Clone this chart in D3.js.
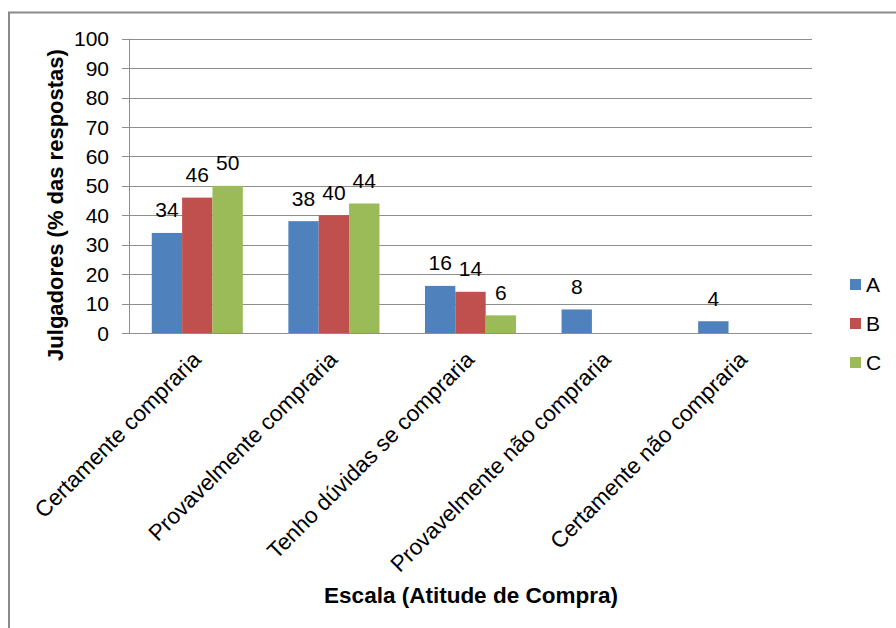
<!DOCTYPE html>
<html>
<head>
<meta charset="utf-8">
<script src="https://cdn.jsdelivr.net/npm/d3@7"></script>
<style>
  html, body { margin: 0; padding: 0; background: #fff; }
  svg { display: block; font-family: "Liberation Sans", Arial, sans-serif; }
</style>
</head>
<body>
<svg id="chart" width="896" height="628"></svg>
<script>
// Categories on the purchase-attitude scale
const categories = [
  "Certamente compraria",
  "Provavelmente compraria",
  "Tenho dúvidas se compraria",
  "Provavelmente não compraria",
  "Certamente não compraria"
];
// Share of judges (%) per sample; null = no answers in that category
const seriesNames = ["A", "B", "C"];
const valuesA = [34, 38, 16, 8, 4];
const valuesB = [46, 40, 14, null, null];
const valuesC = [50, 44, 6, null, null];
const yTicks = [0, 10, 20, 30, 40, 50, 60, 70, 80, 90, 100];
const colors = ["#4F81BD", "#C0504D", "#9BBB59"];

const seriesValues = [valuesA, valuesB, valuesC];
const rows = categories.map((c, i) => ({
  cat: c,
  vals: seriesNames.map((s, j) => ({ key: s, value: seriesValues[j][i] }))
}));

const svg = d3.select("#chart");

// chart frame
svg.append("path")
  .attr("d", "M9,628 L9,12.5 L896,12.5")
  .attr("fill", "none")
  .attr("stroke", "#8a8a8a")
  .attr("stroke-width", 2);

const plot = { left: 129, right: 812, top: 38.7, bottom: 333 };

const y = d3.scaleLinear().domain([0, 100]).range([plot.bottom, plot.top]);
const x0 = d3.scaleBand().domain(categories).range([plot.left, plot.right]).padding(0);
const x1 = d3.scaleBand().domain(seriesNames).range([0, x0.bandwidth()])
  .paddingInner(0).paddingOuter(0.75);
const color = d3.scaleOrdinal().domain(seriesNames).range(colors);

// gridlines
svg.append("g")
  .selectAll("line")
  .data(yTicks)
  .join("line")
  .attr("x1", plot.left - 7)
  .attr("x2", plot.right)
  .attr("y1", d => Math.round(y(d)) + 0.5)
  .attr("y2", d => Math.round(y(d)) + 0.5)
  .attr("stroke", "#8e8e8e")
  .attr("stroke-width", 1);

// y axis line
svg.append("line")
  .attr("x1", plot.left + 0.5).attr("x2", plot.left + 0.5)
  .attr("y1", y(100)).attr("y2", y(0))
  .attr("stroke", "#8e8e8e");

// y tick labels
svg.append("g")
  .selectAll("text")
  .data(yTicks)
  .join("text")
  .attr("x", 109)
  .attr("y", d => y(d))
  .attr("dy", "0.36em")
  .attr("text-anchor", "end")
  .attr("font-size", 21)
  .attr("fill", "#000")
  .text(d => d);

// bars
const groups = svg.append("g")
  .selectAll("g")
  .data(rows)
  .join("g")
  .attr("transform", d => `translate(${x0(d.cat)},0)`);

groups.selectAll("rect")
  .data(d => d.vals.filter(v => v.value != null))
  .join("rect")
  .attr("x", d => x1(d.key))
  .attr("y", d => y(d.value))
  .attr("width", x1.bandwidth())
  .attr("height", d => y(0) - y(d.value))
  .attr("fill", d => color(d.key));

// value labels
groups.selectAll("text")
  .data(d => d.vals.filter(v => v.value != null))
  .join("text")
  .attr("x", d => x1(d.key) + x1.bandwidth() / 2)
  .attr("y", d => y(d.value) - 15.5)
  .attr("text-anchor", "middle")
  .attr("font-size", 21)
  .attr("fill", "#000")
  .text(d => d.value);

// category labels, rotated
svg.append("g")
  .selectAll("text")
  .data(categories)
  .join("text")
  .attr("transform", d => `translate(${x0(d) + x0.bandwidth() / 2 + 5},361) rotate(-45)`)
  .attr("text-anchor", "end")
  .attr("font-size", 22.5)
  .attr("fill", "#000")
  .text(d => d);

// axis titles
svg.append("text")
  .attr("x", 471)
  .attr("y", 603)
  .attr("text-anchor", "middle")
  .attr("font-size", 22.5)
  .attr("font-weight", "bold")
  .text("Escala (Atitude de Compra)");

svg.append("text")
  .attr("transform", "translate(63,205) rotate(-90)")
  .attr("text-anchor", "middle")
  .attr("font-size", 22)
  .attr("font-weight", "bold")
  .text("Julgadores (% das respostas)");

// legend
const legend = svg.append("g")
  .selectAll("g")
  .data(seriesNames)
  .join("g")
  .attr("transform", (d, i) => `translate(850,${279 + i * 39})`);

legend.append("rect")
  .attr("width", 11).attr("height", 11)
  .attr("fill", d => color(d));

legend.append("text")
  .attr("x", 16)
  .attr("y", 12.5)
  .attr("font-size", 21)
  .text(d => d);
</script>
</body>
</html>
